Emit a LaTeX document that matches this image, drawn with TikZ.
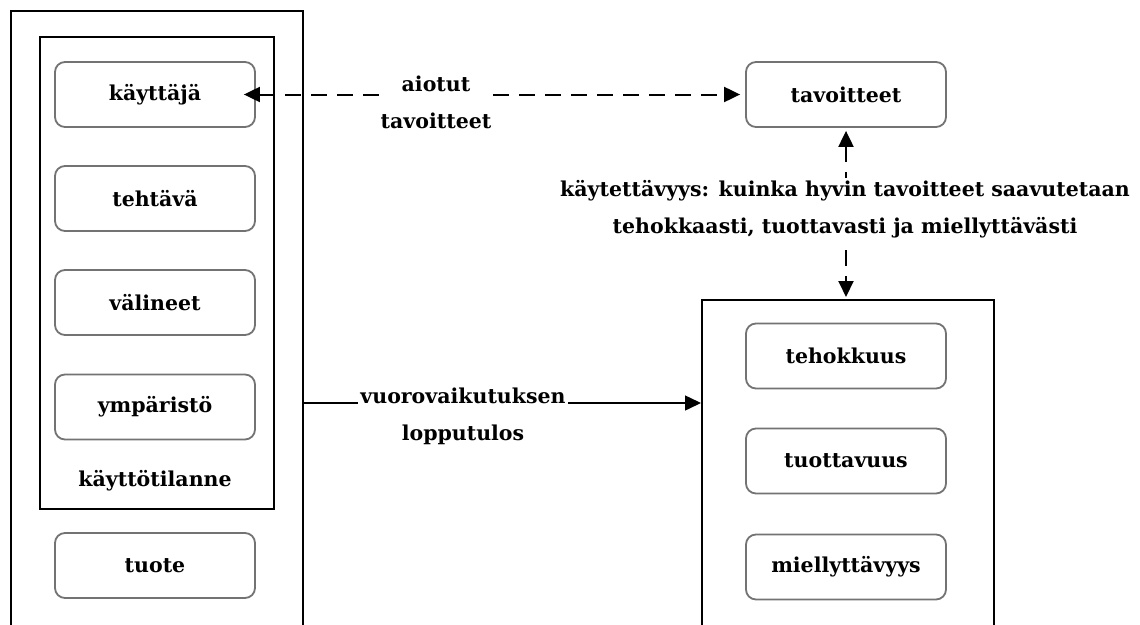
\documentclass[tikz,border=0pt]{standalone}
\usepackage{fontspec}
\setmainfont{DejaVu Serif}
\usetikzlibrary{arrows.meta}
\begin{document}
\begin{tikzpicture}[x=1pt,y=-1pt,
  every node/.style={font=\fontsize{20.5}{37}\selectfont\bfseries},
  rbox/.style={draw=black!55, line width=1.8pt, rounded corners=10pt,
    minimum width=200pt, minimum height=65pt, inner sep=0pt},
  frame/.style={draw=black, line width=1.5pt},
  lbl/.style={fill=white, align=center, inner sep=2pt},
  tip/.style={-{Triangle[length=16pt,width=15pt]}},
  dtip/.style={{Triangle[length=16pt,width=15pt]}-{Triangle[length=16pt,width=15pt]}},
  dsh/.style={line width=2pt, dash pattern=on 16pt off 10pt}]
\useasboundingbox (0,0) rectangle (1140,624);
\clip (0,0) rectangle (1140,624);
\fill[white] (0,0) rectangle (1140,624);
% left frames
\node[frame, anchor=north west, minimum width=292pt, minimum height=650pt, inner sep=0pt] (outerL) at (10,10) {};
\node[frame, anchor=north west, minimum width=234pt, minimum height=472pt, inner sep=0pt] (inner) at (39,36) {};
\node[frame, anchor=north west, minimum width=292pt, minimum height=361pt, inner sep=0pt] (outerR) at (701,299) {};
% left boxes
\node[rbox] (kay) at (155,94.5) {käyttäjä};
\node[rbox] (teh) at (155,198.5) {tehtävä};
\node[rbox] (val) at (155,302.5) {välineet};
\node[rbox] (ymp) at (155,407) {ympäristö};
\node (kt) at (155,481) {käyttötilanne};
\node[rbox] (tuo) at (155,565.5) {tuote};
% right boxes
\node[rbox] (tav) at (846,94.5) {tavoitteet};
\node[rbox] (tk) at (846,356) {tehokkuus};
\node[rbox] (tv) at (846,461) {tuottavuus};
\node[rbox] (mv) at (846,567) {miellyttävyys};
% connectors
\draw[dsh, dtip, shorten <=-12pt, shorten >=5pt] (kay.east) -- (tav.west);
\node[lbl] (ai) at (436,102) {aiotut\\tavoitteet};
\draw[dsh, dtip, shorten <=3pt, shorten >=2pt] (tav.south) -- (outerR.north -| tav.south);
\node[lbl] (kv) at (845,209) {käytettävyys: kuinka hyvin tavoitteet saavutetaan\\tehokkaasti, tuottavasti ja miellyttävästi};
\coordinate (h) at (0,403);
\draw[line width=1.5pt, tip] (outerL.east |- h) -- (outerR.west |- h);
\node[lbl] (vl) at (463,416) {vuorovaikutuksen\\lopputulos};
\end{tikzpicture}
\end{document}
